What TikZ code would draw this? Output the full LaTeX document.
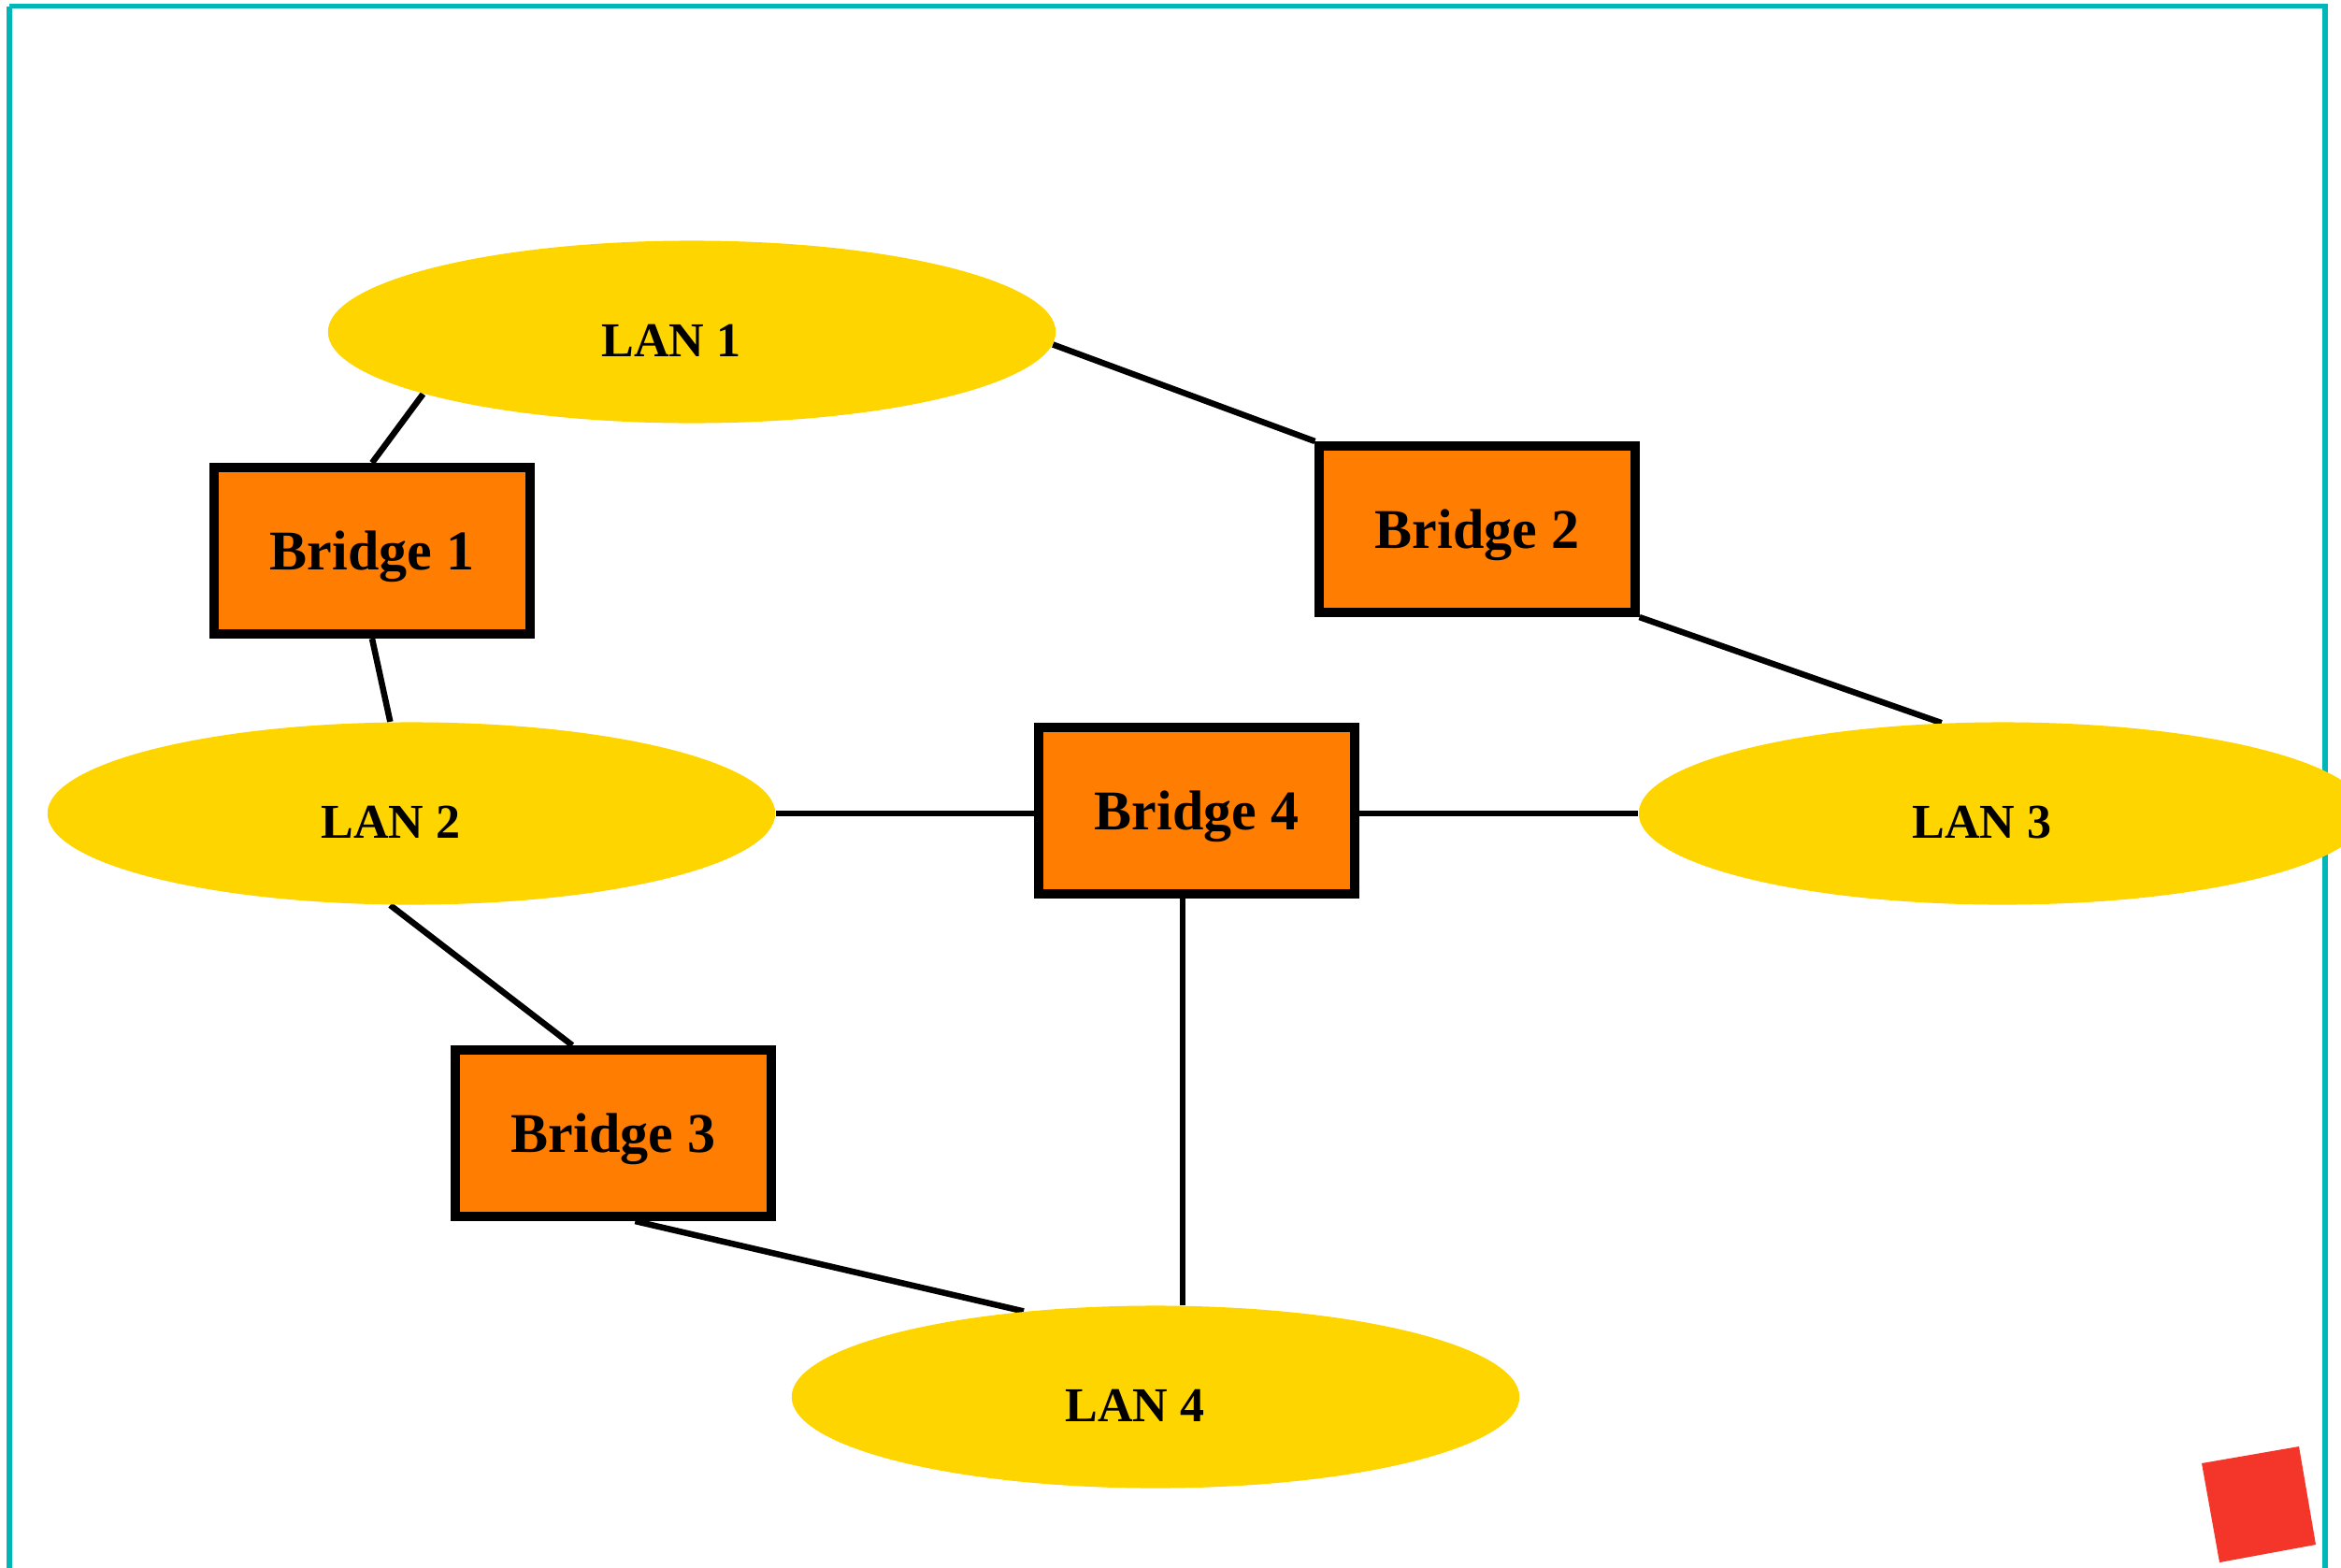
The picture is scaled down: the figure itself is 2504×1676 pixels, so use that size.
\documentclass[tikz,border=0pt]{standalone}
\usepackage{fontspec}
\setmainfont{Liberation Serif}
\usetikzlibrary{shapes.geometric,backgrounds,calc}
\definecolor{lanyellow}{RGB}{255,213,0}
\definecolor{bridgeorange}{RGB}{255,125,0}
\definecolor{frameteal}{RGB}{0,182,182}
\definecolor{markred}{RGB}{244,53,42}
\tikzset{
  lan/.style={ellipse, fill=lanyellow, draw=none, minimum width=7.78cm, minimum height=1.95cm, inner sep=0pt},
  lantext/.style={font=\bfseries\fontsize{14.8}{17}\selectfont, inner sep=0pt, text depth=0pt},
  bridge/.style={rectangle, fill=bridgeorange, draw=black, line width=0.1cm, minimum width=3.37cm, minimum height=1.78cm, inner sep=0pt, text depth=0pt, font=\bfseries\fontsize{17.07}{20}\selectfont},
  link/.style={draw=black, line width=0.065cm},
  frame/.style={draw=frameteal, line width=0.055cm}
}
\begin{document}
\begin{tikzpicture}[x=0.01cm, y=-0.01cm]
\useasboundingbox (0,0) rectangle (2504,1676);
% frame
\draw[frame] (10,6.7) -- (10,1700) (10,6.7) -- (2487,6.7) -- (2487,1700);
% LANs
\node[lan] (lan1) at (740,355) {};
\node[lan] (lan2) at (440,870) {};
\node[lan] (lan3) at (2142,870) {};
\node[lan] (lan4) at (1236,1494) {};
\node[lantext] (lan1t) at ($(lan1)+(-22,9)$) {LAN 1};
\node[lantext] (lan2t) at ($(lan2)+(-22,9)$) {LAN 2};
\node[lantext] (lan3t) at ($(lan3)+(-22,9)$) {LAN 3};
\node[lantext] (lan4t) at ($(lan4)+(-22,9)$) {LAN 4};
% Bridges
\node[bridge] (b1) at (398,589) {Bridge 1};
\node[bridge] (b2) at (1580,566) {Bridge 2};
\node[bridge] (b3) at (656,1212) {Bridge 3};
\node[bridge] (b4) at (1280,867) {Bridge 4};
% red mark
\fill[markred] (2355,1565) -- (2459,1547) -- (2477,1652) -- (2374,1671) -- cycle;
% links
\begin{scope}[on background layer]
\draw[link] (lan1.193) -- (b1.north);
\draw[link] (lan1.-2) -- (b2.north west);
\draw[link] (b1.south) -- (lan2.103.6);
\draw[link] (b2.south east) -- (lan3.124);
\draw[link] (lan2.east) -- (lan2.east -| b4.west);
\draw[link] (b4.east |- lan3.west) -- (lan3.west);
\draw[link] (lan2.257) -- (b3.115);
\draw[link] (b3.-76) -- (lan4.147);
\draw[link] (b4.261) -- (b4.261 |- lan4.north);
\end{scope}
\end{tikzpicture}
\end{document}
